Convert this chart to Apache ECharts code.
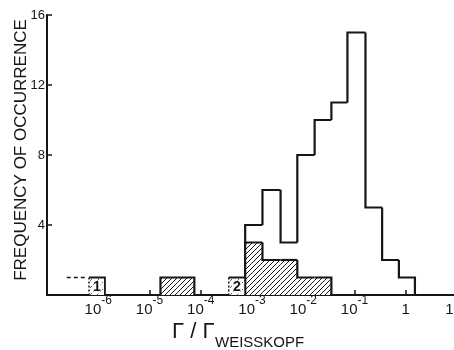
<!DOCTYPE html>
<html><head><meta charset="utf-8">
<script src="https://cdn.jsdelivr.net/npm/echarts@6/dist/echarts.min.js"></script>
<style>html,body{margin:0;padding:0;background:#fff}#c{width:454px;height:350px}</style>
</head><body><div id="c"></div>
<script>
// ---- data ----
const totalEdges = [7.36e-4, 1.60e-3, 3.61e-3, 7.66e-3, 1.667e-2, 3.54e-2, 7.28e-2, 0.1637, 0.346, 0.735, 1.51];
const totalCounts = [4, 6, 3, 8, 10, 11, 15, 5, 2, 1];
const hatchedEdges = [7.36e-4, 1.60e-3, 3.61e-3, 7.66e-3, 1.667e-2, 3.54e-2];
const hatchedCounts = [3, 2, 2, 1, 1];
const lowHatchedEdges = [1.637e-5, 3.51e-5, 7.5e-5];
const lowHatchedCounts = [1, 1];
const boxLo = [6.61e-7, 3.52e-4];
const boxHi = [1.35e-6, 7.36e-4];
const boxCounts = [1, 1];
const boxLabels = ['1', '2'];
const limitX = [2.43e-7, 5.71e-7];
const limitY = [1, 1];
const yTickValues = [0, 4, 8, 12, 16];
const xTickExponents = [-7, -6, -5, -4, -3, -2, -1, 0, 1];

const INK = '#161616';
const FONT = '"Liberation Sans", Arial, sans-serif';

function toBins(edges, counts) {
  return counts.map((c, i) => [edges[i], edges[i + 1], c, i === 0 ? 0 : counts[i - 1], i === counts.length - 1 ? 1 : 0]);
}

function hatchCanvas(step, dots) {
  const cv = document.createElement('canvas');
  cv.width = step; cv.height = step;
  const ctx = cv.getContext('2d');
  ctx.fillStyle = '#fff'; ctx.fillRect(0, 0, step, step);
  ctx.strokeStyle = INK; ctx.lineWidth = 1;
  if (dots) ctx.setLineDash([1, 2]);
  ctx.beginPath();
  ctx.moveTo(0, step); ctx.lineTo(step, 0);
  ctx.moveTo(-2, 2); ctx.lineTo(2, -2);
  ctx.moveTo(step - 2, step + 2); ctx.lineTo(step + 2, step - 2);
  ctx.stroke();
  return cv;
}
const hatch = hatchCanvas(5, false);
const dotHatch = hatchCanvas(7, true);

function stepRender(fillPattern) {
  return function (params, api) {
    const lo = api.value(0), hi = api.value(1), c = api.value(2), prev = api.value(3), last = api.value(4);
    const pts = [api.coord([lo, prev]), api.coord([lo, c]), api.coord([hi, c])];
    if (last) pts.push(api.coord([hi, 0]));
    const children = [];
    if (fillPattern) {
      const a = api.coord([lo, c]), b = api.coord([hi, 0]);
      children.push({ type: 'rect', shape: { x: a[0], y: a[1], width: b[0] - a[0], height: b[1] - a[1] },
        style: { fill: { image: fillPattern, repeat: 'repeat' }, stroke: null } });
    }
    children.push({ type: 'polyline', shape: { points: pts }, style: { stroke: INK, lineWidth: 2.2, fill: null } });
    return { type: 'group', children };
  };
}

function boxRender(params, api) {
  const lo = api.value(0), hi = api.value(1), c = api.value(2);
  const a = api.coord([lo, c]), b = api.coord([hi, 0]);
  const label = boxLabels[params.dataIndex];
  return { type: 'group', children: [
    { type: 'rect', shape: { x: a[0], y: a[1], width: b[0] - a[0], height: b[1] - a[1] },
      style: { fill: { image: dotHatch, repeat: 'repeat' }, stroke: null } },
    { type: 'polyline', shape: { points: [[a[0], a[1]], [b[0], a[1]], [b[0], b[1]]] }, style: { stroke: INK, lineWidth: 1.8, fill: null } },
    { type: 'line', shape: { x1: a[0], y1: a[1], x2: a[0], y2: b[1] }, style: { stroke: INK, lineWidth: 1.5, lineDash: [2, 2] } },
    { type: 'text', x: (a[0] + b[0]) / 2, y: (a[1] + b[1]) / 2 + 1,
      style: { text: label, font: 'bold 14px ' + FONT, fill: INK, align: 'center', verticalAlign: 'middle', textAlign: 'center', textVerticalAlign: 'middle', backgroundColor: 'rgba(255,255,255,0.6)' } }
  ]};
}

const chart = echarts.init(document.getElementById('c'), null, { renderer: 'canvas' });
chart.setOption({
  backgroundColor: '#fff',
  animation: false,
  grid: { left: 47, right: -3, top: 15, bottom: 55, containLabel: false, outerBoundsMode: 'none' },
  xAxis: {
    type: 'log', logBase: 10, min: 1e-7, max: 10, splitNumber: 8,
    axisLine: { show: true, onZero: false, lineStyle: { color: INK, width: 2 } },
    axisTick: { show: true, inside: true, length: 5, lineStyle: { color: INK, width: 1.5 } },
    minorTick: { show: false },
    splitLine: { show: false },
    axisLabel: {
      margin: 0, showMinLabel: false, hideOverlap: false,
      formatter: function (v) {
        const e = Math.round(Math.log10(v));
        if (xTickExponents.indexOf(e) < 0 || e === -7) return '';
        if (e === 0) return '{b|1}';
        return '{b|10}{s|' + e + '}';
      },
      rich: {
        b: { fontSize: 15, lineHeight: 22, verticalAlign: 'bottom', fontFamily: FONT, color: INK },
        s: { fontSize: 12, lineHeight: 10, verticalAlign: 'top', fontFamily: FONT, color: INK }
      }
    }
  },
  yAxis: {
    type: 'value', min: 0, max: 16, interval: 4,
    axisLine: { show: true, lineStyle: { color: INK, width: 2 } },
    axisTick: { show: true, inside: true, length: 5, lineStyle: { color: INK, width: 1.5 } },
    splitLine: { show: false },
    axisLabel: { margin: 2, fontSize: 13, fontFamily: FONT, color: INK,
      formatter: v => (yTickValues.indexOf(v) > 0 ? String(v) : '') }
  },
  graphic: [
    { type: 'text', x: 21, y: 150, rotation: Math.PI / 2,
      style: { text: 'FREQUENCY OF OCCURRENCE', font: '17px ' + FONT, fill: INK, align: 'center', verticalAlign: 'middle', textAlign: 'center', textVerticalAlign: 'middle' } },
    { type: 'text', x: 172, y: 321,
      style: { text: 'Γ / Γ', font: '22px ' + FONT, fill: INK } },
    { type: 'text', x: 215, y: 335,
      style: { text: 'WEISSKOPF', font: '15px ' + FONT, fill: INK } }
  ],
  series: [
    { type: 'custom', renderItem: stepRender(null), data: toBins(totalEdges, totalCounts), encode: { x: [0, 1], y: 2 }, z: 2 },
    { type: 'custom', renderItem: stepRender(hatch), data: toBins(hatchedEdges, hatchedCounts), encode: { x: [0, 1], y: 2 }, z: 3 },
    { type: 'custom', renderItem: stepRender(hatch), data: toBins(lowHatchedEdges, lowHatchedCounts), encode: { x: [0, 1], y: 2 }, z: 3 },
    { type: 'custom', renderItem: boxRender, data: boxLo.map((lo, i) => [lo, boxHi[i], boxCounts[i]]), encode: { x: [0, 1], y: 2 }, z: 3 },
    { type: 'line', data: limitX.map((x, i) => [x, limitY[i]]), symbol: 'none', lineStyle: { color: INK, width: 1.5, type: [4, 3] }, z: 3 }
  ]
});
</script></body></html>
